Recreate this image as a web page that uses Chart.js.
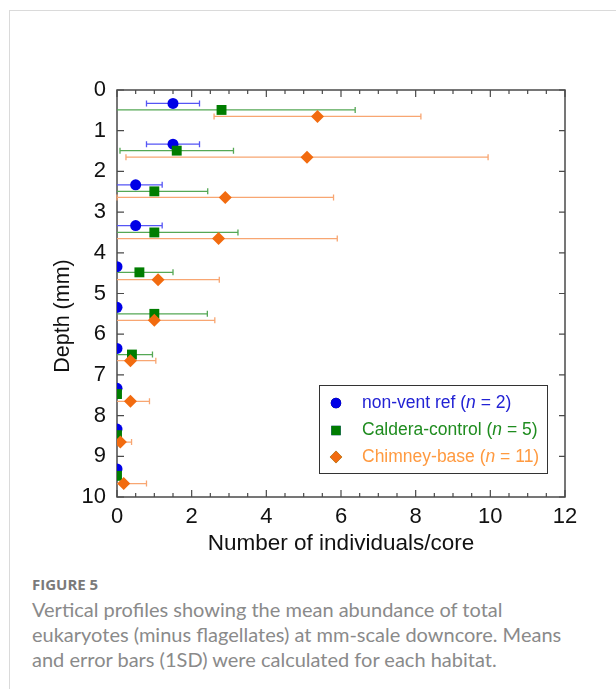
<!DOCTYPE html>
<html>
<head>
<meta charset="utf-8">
<script src="https://cdn.jsdelivr.net/npm/chart.js@4.4.1/dist/chart.umd.min.js"></script>
<style>
  html, body { margin: 0; padding: 0; background: #fff; }
  body { width: 616px; height: 689px; position: relative; overflow: hidden; }
  #frame { position: absolute; left: 9px; top: 10px; right: -2px; bottom: -2px;
           border-top: 1px solid #dadada; border-left: 1px solid #dadada; }
  #wrap { position: absolute; left: 0; top: 0; width: 616px; height: 560px; }
  #figno { position: absolute; left: 32px; top: 574px; font: bold 15px/20px "Open Sans", sans-serif; color: #7a7a7a; }
  #caption { position: absolute; left: 32px; top: 597px; width: 580px; font: 20px/25px Lato, sans-serif; color: #8a8a8a; white-space: nowrap; }
</style>
</head>
<body>
<div id="frame"></div>
<div id="wrap"><canvas id="profileChart" width="616" height="560"></canvas></div>
<div id="figno">FIGURE 5</div>
<div id="caption">Vertical profiles showing the mean abundance of total<br>eukaryotes (minus flagellates) at mm-scale downcore. Means<br>and error bars (1SD) were calculated for each habitat.</div>

<script>
// ===== Data =====
const seriesNames = ["non-vent ref", "Caldera-control", "Chimney-base"];
const seriesN = [2, 5, 11];

// depth (mm) at which each mean is plotted
const depthRef      = [0.33, 1.33, 2.33, 3.33, 4.34, 5.34, 6.35, 7.33, 8.33, 9.31];
const depthCaldera  = [0.49, 1.49, 2.49, 3.5, 4.48, 5.5, 6.5, 7.47, 8.48, 9.48];
const depthChimney  = [0.65, 1.65, 2.64, 3.65, 4.66, 5.66, 6.65, 7.65, 8.65, 9.67];

// mean individuals/core
const meanRef      = [1.5, 1.5, 0.5, 0.5, 0, 0, 0, 0, 0, 0];
const meanCaldera  = [2.8, 1.6, 1.0, 1.0, 0.6, 1.0, 0.4, 0, 0, 0];
const meanChimney  = [5.37, 5.09, 2.9, 2.72, 1.1, 1.0, 0.36, 0.36, 0.09, 0.18];

// 1 SD
const sdRef      = [0.71, 0.71, 0.71, 0.71, 0, 0, 0, 0, 0, 0];
const sdCaldera  = [3.58, 1.52, 1.43, 2.24, 0.9, 1.42, 0.55, 0, 0, 0];
const sdChimney  = [2.77, 4.85, 2.9, 3.18, 1.64, 1.62, 0.68, 0.51, 0.3, 0.61];

const xTickStep = 2;
const yTickStep = 1;

// ===== Styles =====
const FONT = '"Liberation Sans", Arial, sans-serif';
const markerColors = ["#0000e6", "#007d00", "#f26b0f"];
const barColors    = ["#5555f5", "#55a855", "#f8a672"];
const textColors   = ["#2222d4", "#1f8c1f", "#ff9a40"];
const markerStyles = ["circle", "rect", "rectRot"];
const markerSizes  = [5.5, 7, 6.5];

function toPoints(xs, ys) {
  return xs.map((x, i) => ({ x: x, y: ys[i] }));
}

const allMeans  = [meanRef, meanCaldera, meanChimney];
const allSd     = [sdRef, sdCaldera, sdChimney];
const allDepths = [depthRef, depthCaldera, depthChimney];

// ===== Error bars, frame, ticks, legend =====
const profilePlugin = {
  id: "profile",
  beforeDatasetsDraw(chart) {
    const ctx = chart.ctx;
    const xs = chart.scales.x, ys = chart.scales.y;
    const area = chart.chartArea;
    ctx.save();

    // frame
    ctx.strokeStyle = "#4a4a4a";
    ctx.lineWidth = 1.5;
    ctx.strokeRect(area.left, area.top, area.right - area.left, area.bottom - area.top);

    // inward ticks
    ctx.lineWidth = 1.2;
    ctx.beginPath();
    for (let v = 0; v <= 12.001; v += 0.5) {
      const px = xs.getPixelForValue(v);
      const len = (Math.abs(v % xTickStep) < 0.001) ? 7 : 4;
      ctx.moveTo(px, area.bottom); ctx.lineTo(px, area.bottom - len);
      ctx.moveTo(px, area.top); ctx.lineTo(px, area.top + len);
    }
    for (let v = 0; v <= 10; v += yTickStep) {
      const py = ys.getPixelForValue(v);
      ctx.moveTo(area.left, py); ctx.lineTo(area.left + 7, py);
      ctx.moveTo(area.right, py); ctx.lineTo(area.right - 6, py);
    }
    ctx.stroke();

    // y axis title (sits a little below the axis centre in the original)
    ctx.save();
    ctx.translate(63, 316);
    ctx.rotate(-Math.PI / 2);
    ctx.font = "21.5px " + FONT;
    ctx.fillStyle = "#111";
    ctx.textAlign = "center";
    ctx.textBaseline = "middle";
    ctx.fillText("Depth (mm)", 0, 0);
    ctx.restore();

    // error bars
    ctx.lineWidth = 1.3;
    allMeans.forEach((means, s) => {
      ctx.strokeStyle = barColors[s];
      means.forEach((m, i) => {
        const sd = allSd[s][i];
        if (!sd) return;
        const lo = m - sd, hi = m + sd;
        const py = ys.getPixelForValue(allDepths[s][i]);
        const pl = xs.getPixelForValue(Math.max(lo, 0));
        const ph = xs.getPixelForValue(hi);
        ctx.beginPath();
        ctx.moveTo(pl, py); ctx.lineTo(ph, py);
        ctx.moveTo(ph, py - 3); ctx.lineTo(ph, py + 3);
        if (lo >= -0.001) { ctx.moveTo(pl, py - 3); ctx.lineTo(pl, py + 3); }
        ctx.stroke();
      });
    });
    ctx.restore();
  },
  afterDatasetsDraw(chart) {
    const ctx = chart.ctx;
    ctx.save();
    ctx.strokeStyle = "#333";
    ctx.lineWidth = 1;
    ctx.strokeRect(319.5, 385.5, 228, 88);
    const rowsY = [403, 430.5, 457];
    ctx.textBaseline = "middle";
    seriesNames.forEach((name, s) => {
      Chart.helpers.drawPoint(ctx, {
        pointStyle: markerStyles[s], radius: markerSizes[s] * 0.95, rotation: 0, borderWidth: 0
      }, 336, rowsY[s]);
      ctx.fillStyle = markerColors[s];
      ctx.fill();
      ctx.fillStyle = textColors[s];
      let x = 362;
      const parts = [[name + " (", "normal"], ["n", "italic"], [" = " + seriesN[s] + ")", "normal"]];
      parts.forEach(([t, st]) => {
        ctx.font = st + " 17.5px " + FONT;
        ctx.fillText(t, x, rowsY[s]);
        x += ctx.measureText(t).width;
      });
    });
    ctx.restore();
  }
};

const datasets = allMeans.map((means, s) => ({
  label: seriesNames[s],
  data: toPoints(means, allDepths[s]),
  pointStyle: markerStyles[s],
  pointRadius: markerSizes[s],
  pointHoverRadius: markerSizes[s],
  backgroundColor: markerColors[s],
  borderColor: markerColors[s],
  borderWidth: 0,
  order: 3 - s
}));

new Chart(document.getElementById("profileChart"), {
  type: "scatter",
  data: { datasets: datasets },
  plugins: [profilePlugin],
  options: {
    responsive: false,
    animation: false,
    layout: { padding: { left: 0, top: 90, right: 51, bottom: 0 } },
    plugins: { legend: { display: false }, tooltip: { enabled: false } },
    scales: {
      x: {
        type: "linear", position: "bottom", min: 0, max: 12,
        ticks: { stepSize: xTickStep, font: { family: FONT, size: 22 }, color: "#111", padding: 7 },
        grid: { display: false, drawTicks: false },
        border: { display: false },
        title: { display: true, text: "Number of individuals/core", color: "#111",
                 font: { family: FONT, size: 22.5 }, padding: { top: 0, bottom: 3 } },
        afterFit: s => { s.height = 63; }
      },
      y: {
        type: "linear", reverse: true, min: 0, max: 10,
        ticks: { stepSize: yTickStep, font: { family: FONT, size: 22 }, color: "#111", padding: 11 },
        grid: { display: false, drawTicks: false },
        border: { display: false },
        afterFit: s => { s.width = 117; }
      }
    }
  }
});
</script>
</body>
</html>
